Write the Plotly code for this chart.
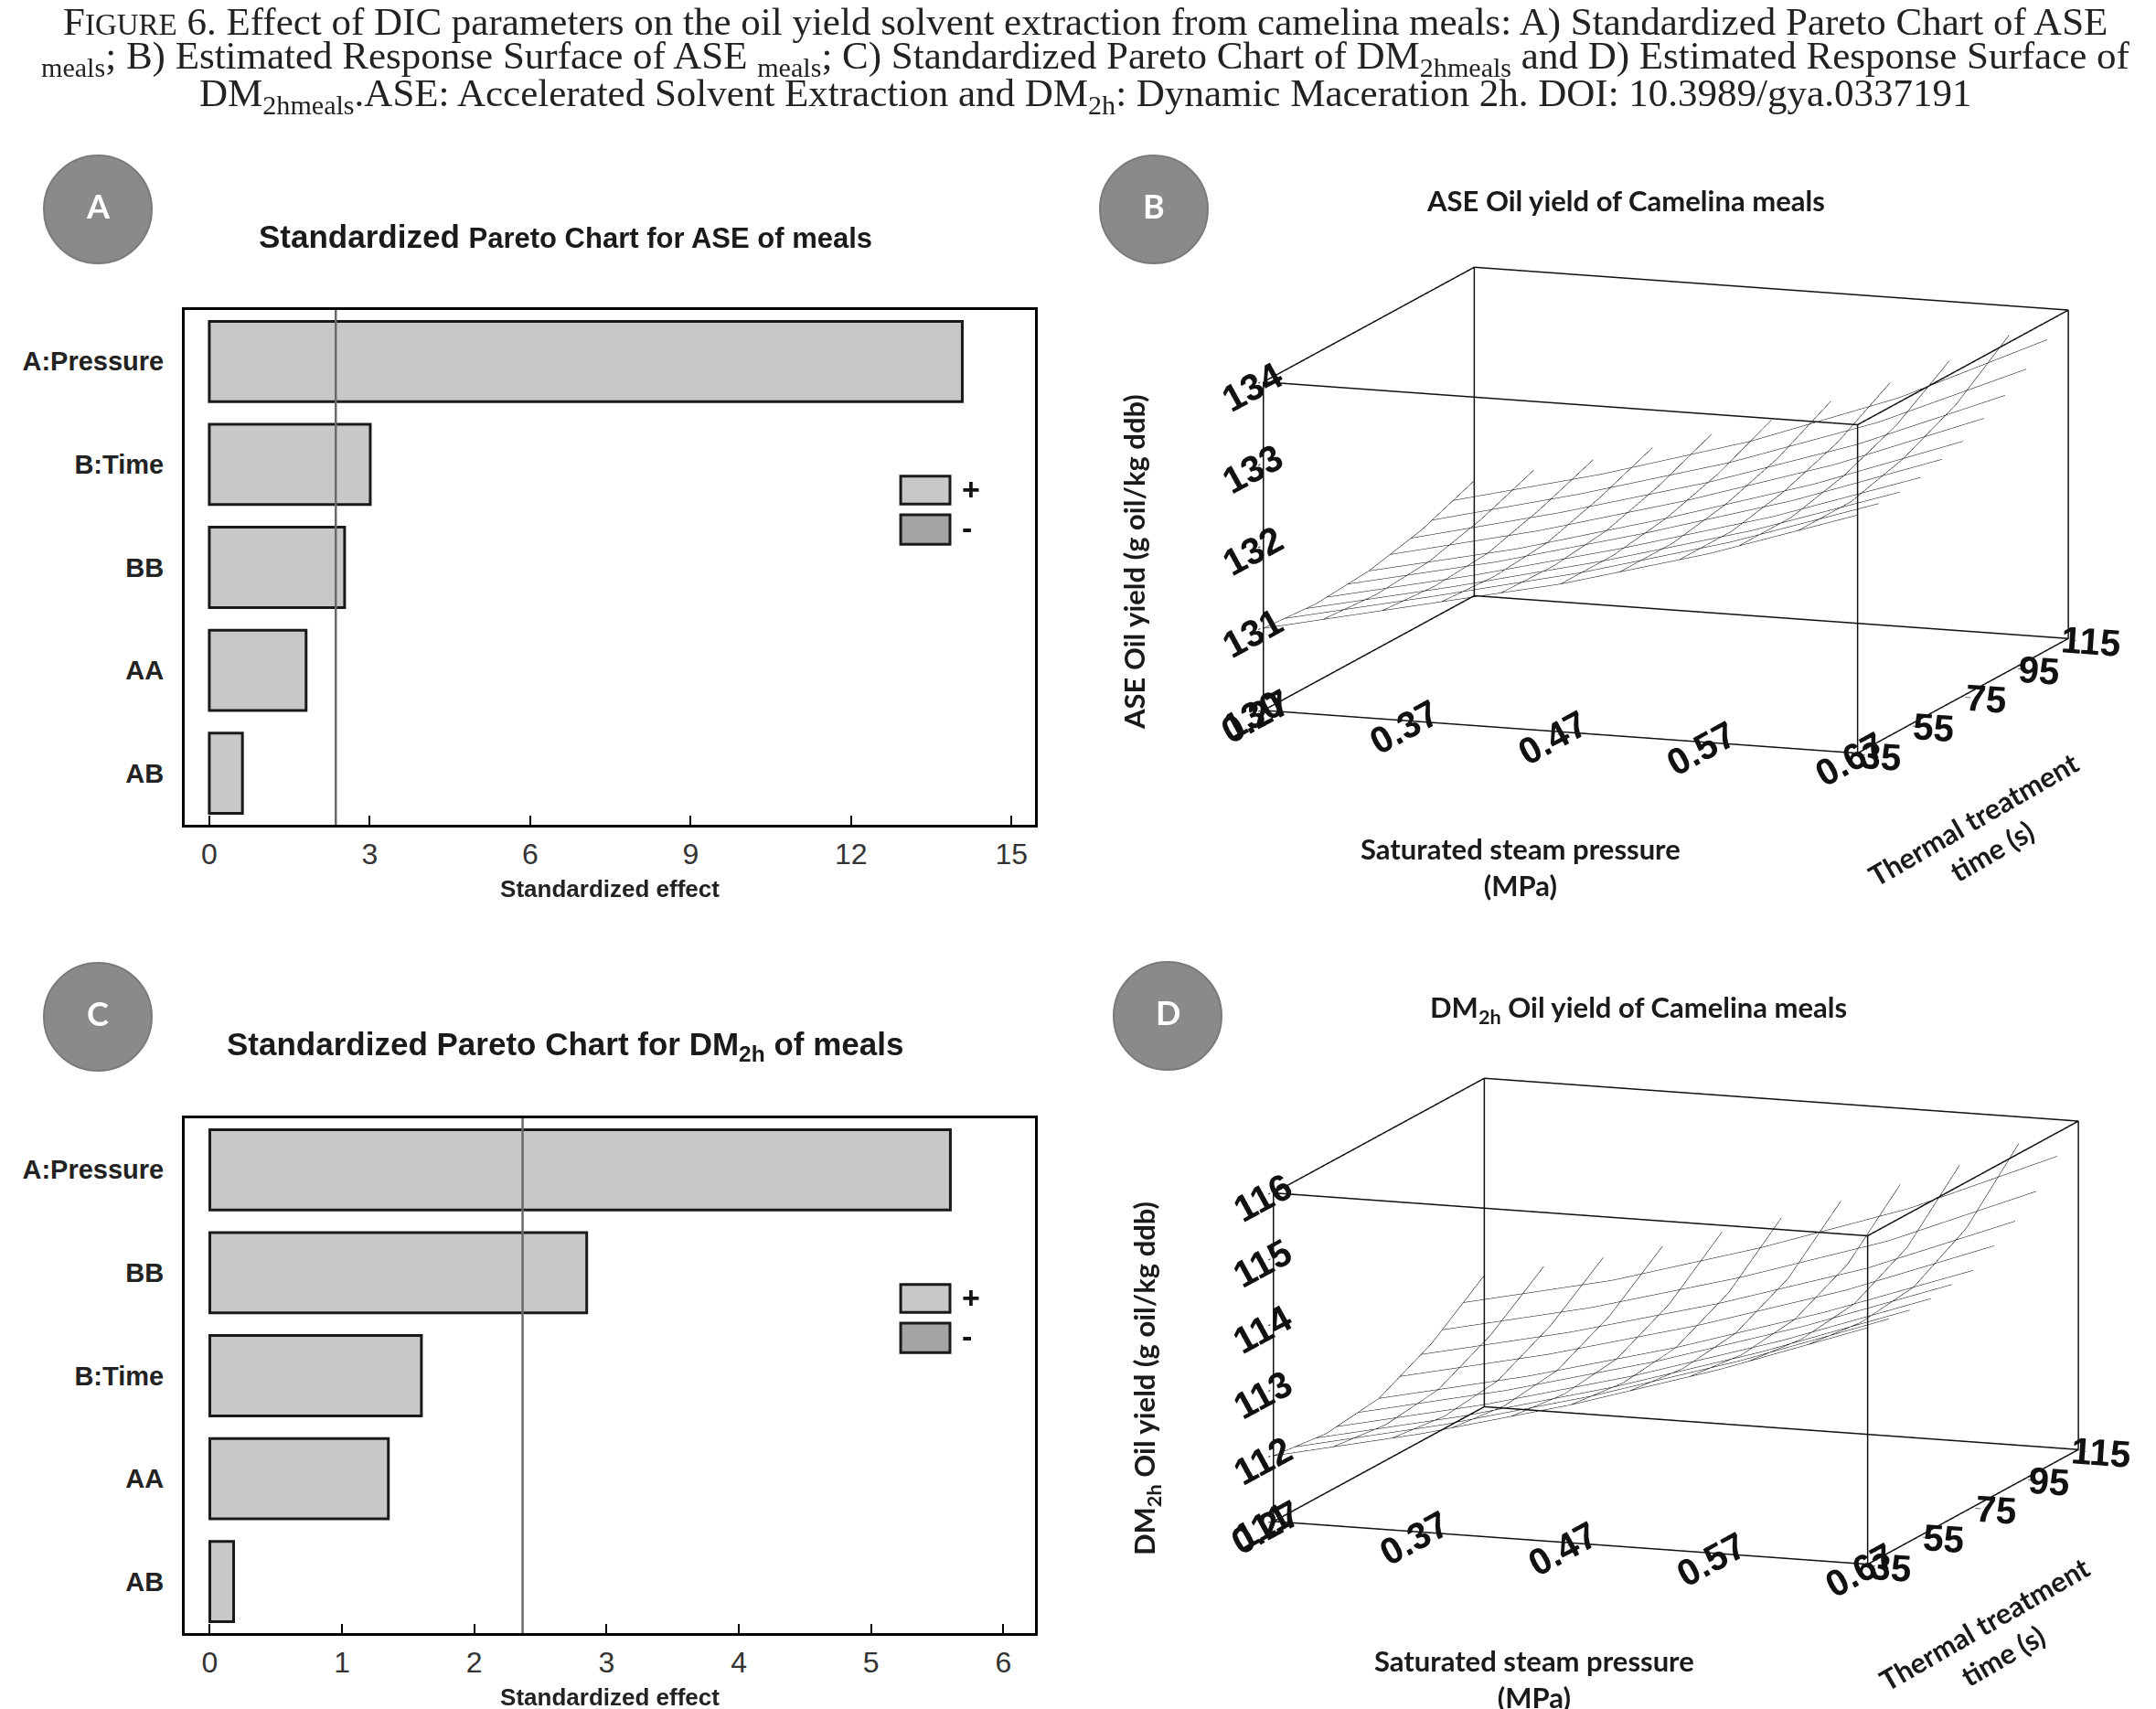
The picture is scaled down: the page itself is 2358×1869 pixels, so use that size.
import plotly.graph_objects as go

# ---- data ----
terms_ase = ["A:Pressure", "B:Time", "BB", "AA", "AB"]
effects_ase = [14.08, 3.01, 2.53, 1.81, 0.62]

terms_dm = ["A:Pressure", "BB", "B:Time", "AA", "AB"]
effects_dm = [5.60, 2.85, 1.60, 1.35, 0.18]

t_crit = 2.365  # reference line in both Pareto charts

pressure = [0.27, 0.37, 0.47, 0.57, 0.67]   # MPa
time_s = [35, 55, 75, 95, 115]              # s
z_ticks_ase = [130, 131, 132, 133, 134]
z_ticks_dm = [111, 112, 113, 114, 115, 116]

# estimated response surfaces, rows = time, cols = pressure
ase_yield = [
    [131.00, 131.40, 131.80, 132.30, 132.90],
    [130.95, 131.35, 131.80, 132.30, 132.90],
    [131.00, 131.40, 131.90, 132.45, 133.10],
    [131.15, 131.60, 132.10, 132.70, 133.45],
    [131.40, 131.85, 132.40, 133.10, 134.00],
]
dm_yield = [
    [112.00, 112.50, 113.10, 113.80, 114.60],
    [111.90, 112.40, 113.00, 113.70, 114.50],
    [112.00, 112.50, 113.10, 113.80, 114.60],
    [112.40, 112.90, 113.50, 114.20, 115.10],
    [113.00, 113.50, 114.20, 115.00, 116.00],
]

W, H = 2358, 1869
SANS = "Liberation Sans"
HUM = "Lato"
BAR_FILL = "#c8c8c8"
NEG_FILL = "#a4a4a4"

fig = go.Figure()

# ---- Pareto charts ----
fig.add_trace(go.Bar(x=effects_ase, y=terms_ase, orientation="h", width=0.78,
                     marker=dict(color=BAR_FILL, line=dict(color="#1a1a1a", width=3)),
                     xaxis="x", yaxis="y", showlegend=False))
fig.add_trace(go.Bar(x=effects_dm, y=terms_dm, orientation="h", width=0.78,
                     marker=dict(color=BAR_FILL, line=dict(color="#1a1a1a", width=3)),
                     xaxis="x2", yaxis="y2", showlegend=False))

# ---- response surfaces (wireframe) ----
def wire(z, scene):
    return go.Surface(
        x=pressure, y=time_s, z=z, scene=scene, hidesurface=True, showscale=False,
        contours=dict(
            x=dict(show=True, start=pressure[0], end=pressure[-1] + 1e-6, size=0.04,
                   color="#000000", width=4, highlight=False),
            y=dict(show=True, start=time_s[0], end=time_s[-1] + 1e-6, size=8,
                   color="#000000", width=4, highlight=False),
            z=dict(show=False, highlight=False),
        ),
        hoverinfo="skip",
    )


def box_edges(zt, scene):
    # outline of the plotting cube, built from the axis limits
    x0, x1 = pressure[0], pressure[-1]
    y0, y1 = time_s[0], time_s[-1]
    z0, z1 = zt[0], zt[-1]
    xs, ys, zs = [], [], []
    for a in (y0, y1):
        for b in (z0, z1):
            xs += [x0, x1, None]; ys += [a, a, None]; zs += [b, b, None]
    for a in (x0, x1):
        for b in (z0, z1):
            xs += [a, a, None]; ys += [y0, y1, None]; zs += [b, b, None]
    for a in (x0, x1):
        for b in (y0, y1):
            xs += [a, a, None]; ys += [b, b, None]; zs += [z0, z1, None]
    return go.Scatter3d(x=xs, y=ys, z=zs, mode="lines", scene=scene,
                        line=dict(color="#111111", width=3), hoverinfo="skip",
                        showlegend=False)


fig.add_trace(wire(ase_yield, "scene"))
fig.add_trace(box_edges(z_ticks_ase, "scene"))
fig.add_trace(wire(dm_yield, "scene2"))
fig.add_trace(box_edges(z_ticks_dm, "scene2"))

# ---- axes for bar charts ----
xa_common = dict(showline=True, linecolor="black", linewidth=3, mirror=True,
                 ticks="inside", ticklen=10, tickwidth=2, tickcolor="black",
                 showgrid=False, zeroline=False,
                 tickfont=dict(family=SANS, size=32, color="#333"),
                 ticklabelstandoff=2,
                 title=dict(text="Standardized effect", standoff=12,
                            font=dict(family=SANS, size=26, color="#222", weight="bold")))
ya_common = dict(showline=True, linecolor="black", linewidth=3, mirror=True,
                 ticks="", showgrid=False, zeroline=False, autorange="reversed",
                 tickfont=dict(family=SANS, size=29, color="#222", weight="bold"),
                 ticklabelstandoff=14)

xdom = [194 / W, 1124 / W]
fig.update_layout(
    xaxis=dict(xa_common, domain=xdom, anchor="y", range=[-0.46, 15.44],
               tickvals=[0, 3, 6, 9, 12, 15]),
    yaxis=dict(ya_common, domain=[1 - 894 / H, 1 - 331 / H], anchor="x",
               range=[4.55, -0.6]),
    xaxis2=dict(xa_common, domain=xdom, anchor="y2", range=[-0.19, 6.24],
                tickvals=[0, 1, 2, 3, 4, 5, 6]),
    yaxis2=dict(ya_common, domain=[1 - 1778 / H, 1 - 1215 / H], anchor="x2",
                range=[4.55, -0.6]),
)

for xr, yr in (("x", "y"), ("x2", "y2")):
    fig.add_shape(type="line", xref=xr, yref=yr + " domain", x0=t_crit, x1=t_crit,
                  y0=0, y1=1, line=dict(color="#6a6a6a", width=2.5))
    # +/- key
    for (y0, y1), fill, sym, ys in (((0.623, 0.677), BAR_FILL, "+", 0.652),
                                    ((0.545, 0.602), NEG_FILL, "-", 0.578)):
        fig.add_shape(type="rect", xref=xr + " domain", yref=yr + " domain",
                      x0=0.842, x1=0.900, y0=y0, y1=y1, fillcolor=fill,
                      line=dict(color="#1a1a1a", width=3))
        fig.add_annotation(xref=xr + " domain", yref=yr + " domain", x=0.912, y=ys,
                           text="<b>" + sym + "</b>", showarrow=False,
                           xanchor="left", yanchor="middle",
                           font=dict(family=SANS, size=34, color="#111"))

# ---- 3D scenes ----
def ax3(vals):
    pad = (vals[-1] - vals[0]) * 0.004   # keep the cube outline inside the clip box
    return dict(range=[vals[0] - pad, vals[-1] + pad], tickvals=vals,
                ticktext=[str(v) for v in vals],
                showbackground=False, showgrid=False, zeroline=False,
                showline=False, ticks="outside", ticklen=6, tickcolor="black", tickwidth=2,
                showspikes=False, title=dict(text=""),
                tickfont=dict(family=SANS, size=22, color="#111", weight="bold"))

k = 4.5
camera = dict(eye=dict(x=0.364 * k, y=-1.0 * k, z=0.215 * k),
              center=dict(x=0, y=0, z=0), up=dict(x=0, y=0, z=1),
              projection=dict(type="orthographic"))
s = 2.05
aspect = dict(x=1 * s, y=0.975 * s, z=0.53 * s)

fig.update_layout(
    scene=dict(domain=dict(x=[1270 / W, 1.0], y=[1 - 890 / H, 1 - 210 / H]),
               xaxis=ax3(pressure), yaxis=ax3(time_s), zaxis=ax3(z_ticks_ase),
               camera=camera, aspectmode="manual", aspectratio=aspect,
               bgcolor="rgba(0,0,0,0)"),
    scene2=dict(domain=dict(x=[1292 / W, 1.0], y=[1 - 1777 / H, 1 - 1097 / H]),
                xaxis=ax3(pressure), yaxis=ax3(time_s), zaxis=ax3(z_ticks_dm),
                camera=camera, aspectmode="manual", aspectratio=aspect,
                bgcolor="rgba(0,0,0,0)"),
)

# ---- caption ----
cap = dict(family="Liberation Serif", size=43, color="#222")
caption_lines = [
    "F<span style='font-size:33px'>IGURE</span> 6. Effect of DIC parameters on the oil yield "
    "solvent extraction from camelina meals: A) Standardized Pareto Chart of ASE",
    "<sub>meals</sub>; B) Estimated Response Surface of ASE <sub>meals</sub>; C) Standardized "
    "Pareto Chart of DM<sub>2hmeals</sub> and D) Estimated Response Surface of",
    "DM<sub>2hmeals</sub>.ASE: Accelerated Solvent Extraction and DM<sub>2h</sub>: "
    "Dynamic Maceration 2h. DOI: 10.3989/gya.0337191",
]
for line, ypx in zip(caption_lines, [16, 56, 97]):
    fig.add_annotation(xref="paper", yref="paper", x=0.5, y=1 - ypx / H, text=line,
                       showarrow=False, xanchor="center", yanchor="middle", font=cap)


def label(text, cx, cy, font, angle=0):
    fig.add_annotation(xref="paper", yref="paper", x=cx / W, y=1 - cy / H, text=text,
                       showarrow=False, xanchor="center", yanchor="middle",
                       textangle=angle, font=font)


# ---- panel titles ----
label("<b>Standardized <span style='font-size:31px'>Pareto Chart for ASE of meals</span></b>",
      610, 250, dict(family=SANS, size=35, color="#1a1a1a"))
label("<b>Standardized Pareto Chart for DM<sub>2h</sub> of meals</b>",
      610, 1136, dict(family=SANS, size=35, color="#1a1a1a"))
label("<b>ASE Oil yield of Camelina meals</b>", 1770, 211,
      dict(family=HUM, size=31, color="#1a1a1a"))
label("<b>DM<sub>2h</sub> Oil yield of Camelina meals</b>", 1784, 1095,
      dict(family=HUM, size=31, color="#1a1a1a"))

# ---- 3D axis titles (as paper annotations) ----
tfont = dict(family=HUM, size=31, color="#1a1a1a")
label("<b>ASE Oil yield (g oil/kg ddb)</b>", 1232, 607, tfont, -90)
label("<b>DM<sub>2h</sub> Oil yield (g oil/kg ddb)</b>", 1245, 1500, tfont, -90)
for cx, cy in ((1655, 940), (1670, 1828)):
    label("<b>Saturated steam pressure<br>(MPa)</b>", cx, cy, tfont)
for cx, cy in ((2160, 905), (2172, 1785)):
    label("<b>Thermal treatment<br>time (s)</b>", cx, cy, tfont, -30)

# ---- panel badges ----
for letter, cx, cy in (("A", 99, 221), ("B", 1254, 221), ("C", 99, 1104), ("D", 1269, 1103)):
    r = 59
    fig.add_shape(type="circle", xref="paper", yref="paper",
                  x0=(cx - r) / W, x1=(cx + r) / W, y0=1 - (cy + r) / H, y1=1 - (cy - r) / H,
                  fillcolor="#8a8a8a", line=dict(color="#7a7a7a", width=2))
    label("<b>" + letter + "</b>", cx, cy - 4, dict(family=HUM, size=36, color="white"))

fig.update_layout(width=W, height=H, margin=dict(l=0, r=0, t=0, b=0),
                  paper_bgcolor="white", plot_bgcolor="white", showlegend=False,
                  bargap=0.2)

fig.write_html("out.html")
